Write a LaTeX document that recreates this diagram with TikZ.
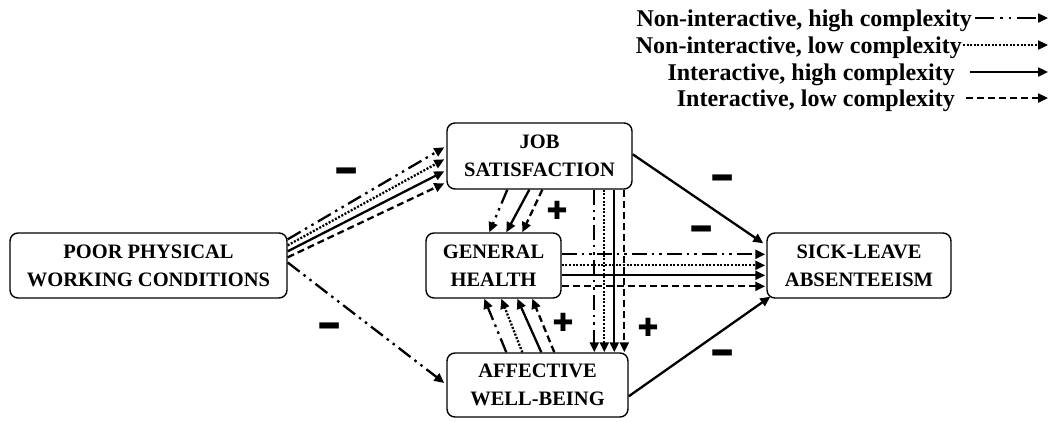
\documentclass[tikz,border=0pt]{standalone}
\usepackage{fontspec}
\setmainfont{Liberation Serif}
\newfontfamily\signfont{DejaVu Sans}
\usetikzlibrary{arrows.meta,calc}
\begin{document}
\begin{tikzpicture}[x=1pt,y=-1pt,
  box/.style={draw, line width=1.4pt, rounded corners=8pt, align=center,
    font=\fontsize{20.5}{28}\selectfont\bfseries, inner sep=0pt},
  conn/.style={line width=2.3pt, -{Triangle[length=10pt,width=9pt]}},
  ndh/.style={conn, dash pattern=on 15pt off 5pt on 2.5pt off 5pt on 2.5pt off 5pt},
  ndl/.style={conn, dash pattern=on 2pt off 1.6pt},
  ih/.style={conn},
  il/.style={conn, dash pattern=on 7pt off 4pt},
  sign/.style={font=\signfont\bfseries\fontsize{24}{24}\selectfont, inner sep=0pt},
  plussign/.style={font=\signfont\fontsize{25}{25}\selectfont, inner sep=0pt},
  legtext/.style={anchor=base east, font=\fontsize{24}{24}\selectfont\bfseries, inner sep=0pt}
]
\useasboundingbox (0,0) rectangle (1052,421);

% boxes
\node[box, minimum width=277pt, minimum height=65pt] (P) at (148.5,265.5) {POOR PHYSICAL\\WORKING CONDITIONS};
\node[box, minimum width=185pt, minimum height=66pt] (J) at (539.5,156) {JOB\\SATISFACTION};
\node[box, minimum width=135pt, minimum height=65pt] (G) at (493.5,265.5) {GENERAL\\HEALTH};
\node[box, minimum width=181pt, minimum height=64pt] (A) at (537.5,385) {AFFECTIVE\\WELL-BEING};
\node[box, minimum width=184pt, minimum height=65pt] (S) at (859,265.5) {SICK-LEAVE\\ABSENTEEISM};

% P -> J
\draw[ndh] ($(P.north east)+(0,7)$)  -- ($(J.north west)+(-2,25)$);
\draw[ndl] ($(P.north east)+(0,13)$) -- ($(J.north west)+(-2,37)$);
\draw[ih]  ($(P.north east)+(0,19)$) -- ($(J.north west)+(-2,49)$);
\draw[il]  ($(P.north east)+(0,25)$) -- ($(J.north west)+(-2,61)$);

% P -> A
\draw[ndh] ($(P.east)+(0,-3)$) -- ($(A.west)+(-2,-2)$);

% J -> G
\draw[ndh] ($(J.south west)+(61,0)$) -- ($(G.north west)+(64,0)$);
\draw[ih]  ($(J.south west)+(83,0)$) -- ($(G.north west)+(81,0)$);
\draw[il]  ($(J.south west)+(96,0)$) -- ($(G.north west)+(97,0)$);

% A -> G
\draw[ndh] ($(A.north west)+(60,0)$)  -- ($(G.south west)+(59,0)$);
\draw[ndl] ($(A.north west)+(76,0)$)  -- ($(G.south west)+(76,0)$);
\draw[ih]  ($(A.north west)+(95,0)$)  -- ($(G.south west)+(92,0)$);
\draw[il]  ($(A.north west)+(108,0)$) -- ($(G.south west)+(107,0)$);

% J -> A
\draw[ndh] ($(J.south west)+(148,0)$) -- ($(A.north west)+(148,0)$);
\draw[ndl] ($(J.south west)+(158,0)$) -- ($(A.north west)+(158,0)$);
\draw[ih]  ($(J.south west)+(168,0)$) -- ($(A.north west)+(168,0)$);
\draw[il]  ($(J.south west)+(178,0)$) -- ($(A.north west)+(178,0)$);

% G -> S
\draw[ndh] ($(G.north east)+(0,22)$) -- ($(S.north west)+(-1,22)$);
\draw[ndl] ($(G.north east)+(0,33)$) -- ($(S.north west)+(-1,33)$);
\draw[ih]  ($(G.north east)+(0,43)$) -- ($(S.north west)+(-1,43)$);
\draw[il]  ($(G.north east)+(0,54)$) -- ($(S.north west)+(-1,54)$);

% J -> S, A -> S
\draw[ih] ($(J.north east)+(0,32)$) -- ($(S.north west)+(-3,11)$);
\draw[ih] ($(A.north east)+(0,44)$) -- ($(S.south west)+(4,-2)$);

% signs
\node[sign] (m1) at (347,178) {\scalebox{1.3}[2.2]{−}};
\node[sign] (m2) at (330,333) {\scalebox{1.3}[2.2]{−}};
\node[sign] (m3) at (723,185) {\scalebox{1.3}[2.2]{−}};
\node[sign] (m4) at (702,236) {\scalebox{1.3}[2.2]{−}};
\node[sign] (m5) at (723,360) {\scalebox{1.3}[2.2]{−}};
\node[plussign] (p1) at (557,210) {✚};
\node[plussign] (p2) at (563,322) {✚};
\node[plussign] (p3) at (648,327) {✚};

% legend
\node[legtext] (t1) at (972,26) {Non-interactive, high complexity};
\node[legtext] (t2) at (962,53) {Non-interactive, low complexity};
\node[legtext] (t3) at (955,80) {Interactive, high complexity};
\node[legtext] (t4) at (955,106) {Interactive, low complexity};
\coordinate (l1s) at (975,18);  \coordinate (l1e) at (1048,18);
\coordinate (l2s) at (963,45);  \coordinate (l2e) at (1048,45);
\coordinate (l3s) at (970,72);  \coordinate (l3e) at (1048,72);
\coordinate (l4s) at (966,98);  \coordinate (l4e) at (1048,98);
\draw[conn, dash pattern=on 19pt off 6pt on 2.5pt off 6pt on 2.5pt off 6pt] (l1s) -- (l1e);
\draw[ndl] (l2s) -- (l2e);
\draw[ih] (l3s) -- (l3e);
\draw[il] (l4s) -- (l4e);
\end{tikzpicture}
\end{document}
